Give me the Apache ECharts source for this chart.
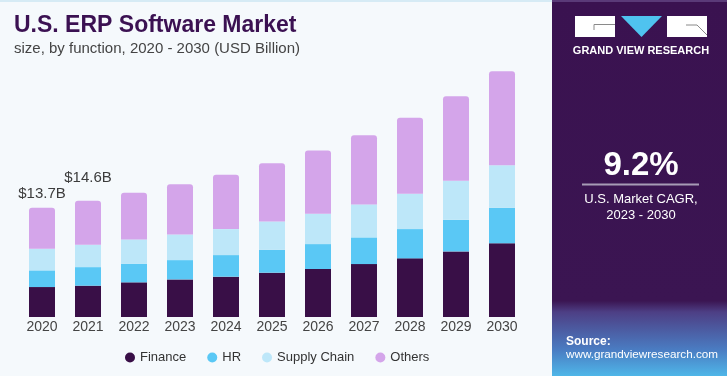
<!DOCTYPE html>
<html>
<head>
<meta charset="utf-8">
<script src="https://cdn.jsdelivr.net/npm/echarts@6/dist/echarts.min.js"></script>
<style>
  html, body { margin: 0; padding: 0; background: #f5f9fc; }
  #chart { width: 727px; height: 376px; }
</style>
</head>
<body>
<div id="chart"></div>
<script>
// values, USD billion
const years = ['2020', '2021', '2022', '2023', '2024', '2025', '2026', '2027', '2028', '2029', '2030'];
const finance = [3.76, 3.93, 4.35, 4.72, 5.06, 5.56, 6.02, 6.64, 7.36, 8.23, 9.27];
const hr = [2.09, 2.33, 2.34, 2.42, 2.71, 2.88, 3.13, 3.35, 3.67, 3.97, 4.44];
const supplyChain = [2.72, 2.81, 3.05, 3.22, 3.26, 3.55, 3.81, 4.14, 4.44, 4.89, 5.34];
const others = [5.14, 5.51, 5.85, 6.30, 6.82, 7.31, 7.93, 8.68, 9.52, 10.60, 11.78];
const totalLabels = { 0: '$13.7B', 1: '$14.6B' };

const font = 'Liberation Sans, Arial, sans-serif';
const colors = ['#390f47', '#5ac8f5', '#bde7f9', '#d4a5ea'];

let myChart = echarts.init(document.getElementById('chart'));

function barSeries(name, values, idx) {
  return {
    name: name,
    type: 'bar',
    stack: 'total',
    barWidth: 26,
    itemStyle: { color: colors[idx] },
    data: values
  };
}

// top segment carries the rounded corners and the two value labels
let othersData = others.map((v, i) => {
  let item = { value: v };
  if (totalLabels[i]) {
    item.label = {
      show: true,
      position: 'top',
      distance: i === 0 ? 6 : 15,
      formatter: totalLabels[i],
      color: '#3c3c3c',
      fontSize: 15,
      fontFamily: font
    };
  }
  return item;
});

let othersSeries = barSeries('Others', othersData, 3);
othersSeries.itemStyle.borderRadius = [3, 3, 0, 0];

myChart.setOption({
  backgroundColor: '#f5f9fc',
  animation: false,
  grid: { left: 19, right: 202, top: 62, bottom: 59 },
  xAxis: {
    type: 'category',
    data: years,
    axisLine: { show: false },
    axisTick: { show: false },
    axisLabel: { color: '#444', fontSize: 14, fontFamily: font, margin: 3 }
  },
  yAxis: { type: 'value', min: 0, max: 32, show: false },
  legend: {
    left: 120,
    top: 346,
    icon: 'circle',
    itemWidth: 10,
    itemHeight: 10,
    itemGap: 21,
    textStyle: { color: '#333', fontSize: 13, fontFamily: font },
    data: ['Finance', 'HR', 'Supply Chain', 'Others']
  },
  series: [
    barSeries('Finance', finance, 0),
    barSeries('HR', hr, 1),
    barSeries('Supply Chain', supplyChain, 2),
    othersSeries
  ],
  graphic: [
    { type: 'rect', shape: { x: 0, y: 0, width: 552, height: 2 }, style: { fill: '#d6ebf5' } },
    {
      type: 'text', x: 14, y: 26,
      style: { text: 'U.S. ERP Software Market', fill: '#3b1152', font: 'bold 23px ' + font, verticalAlign: 'middle' }
    },
    {
      type: 'text', x: 14, y: 49,
      style: { text: 'size, by function, 2020 - 2030 (USD Billion)', fill: '#444', font: '15px ' + font, verticalAlign: 'middle' }
    },
    // right panel
    {
      type: 'rect', shape: { x: 552, y: 0, width: 175, height: 376 },
      style: {
        fill: new echarts.graphic.LinearGradient(0, 0, 0, 1, [
          { offset: 0, color: '#3a1250' },
          { offset: 0.80, color: '#3b1552' },
          { offset: 0.83, color: '#4d3f85' },
          { offset: 0.93, color: '#4a7cc2' },
          { offset: 1, color: '#4fb6e8' }
        ])
      }
    },
    { type: 'rect', shape: { x: 552, y: 0, width: 175, height: 2 }, style: { fill: '#5a3a78' } },
    // logo
    { type: 'rect', shape: { x: 575, y: 16, width: 40, height: 21 }, style: { fill: '#ffffff' } },
    { type: 'polyline', shape: { points: [[594, 30], [594, 24.5], [615, 24.5]] }, style: { stroke: '#8a8a8a', lineWidth: 1, fill: null } },
    { type: 'polygon', shape: { points: [[621, 16], [662, 16], [641.5, 37]] }, style: { fill: '#4fc3ef' } },
    { type: 'rect', shape: { x: 667, y: 16, width: 40, height: 21 }, style: { fill: '#ffffff' } },
    { type: 'polyline', shape: { points: [[686, 25], [697, 25], [707, 35]] }, style: { stroke: '#8a8a8a', lineWidth: 1, fill: null } },
    {
      type: 'text', x: 641, y: 51,
      style: { text: 'GRAND VIEW RESEARCH', fill: '#ffffff', font: 'bold 11px ' + font, align: 'center', verticalAlign: 'middle' }
    },
    // CAGR block
    {
      type: 'text', x: 641, y: 166,
      style: { text: '9.2%', fill: '#ffffff', font: 'bold 33px ' + font, align: 'center', verticalAlign: 'middle' }
    },
    { type: 'rect', shape: { x: 582, y: 183.5, width: 117, height: 2 }, style: { fill: '#a79bb6' } },
    {
      type: 'text', x: 641, y: 199,
      style: { text: 'U.S. Market CAGR,', fill: '#ffffff', font: '13px ' + font, align: 'center', verticalAlign: 'middle' }
    },
    {
      type: 'text', x: 641, y: 215,
      style: { text: '2023 - 2030', fill: '#ffffff', font: '13px ' + font, align: 'center', verticalAlign: 'middle' }
    },
    // source
    {
      type: 'text', x: 566, y: 342,
      style: { text: 'Source:', fill: '#ffffff', font: 'bold 12px ' + font, verticalAlign: 'middle' }
    },
    {
      type: 'text', x: 566, y: 355,
      style: { text: 'www.grandviewresearch.com', fill: '#ffffff', font: '11.7px ' + font, verticalAlign: 'middle' }
    }
  ]
});
</script>
</body>
</html>
